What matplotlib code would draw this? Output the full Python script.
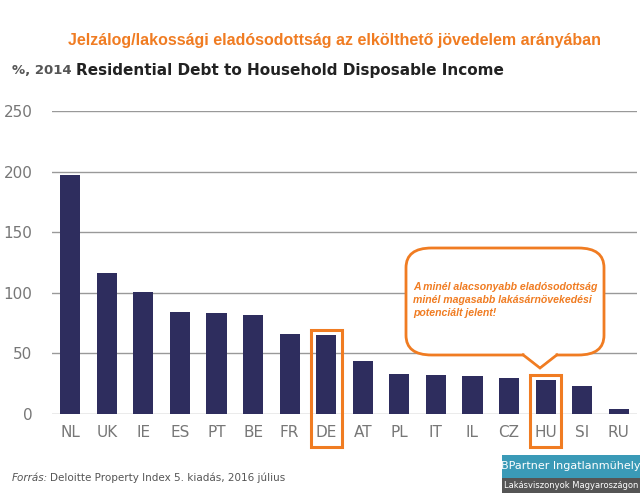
import matplotlib.pyplot as plt
from matplotlib.patches import FancyBboxPatch, Polygon, Rectangle

countries = ["NL", "UK", "IE", "ES", "PT", "BE", "FR", "DE", "AT", "PL", "IT", "IL", "CZ", "HU", "SI", "RU"]
debt = [197, 116, 101, 84, 83, 82, 66, 65, 44, 33, 32, 31, 30, 28, 23, 4]
highlight = ["DE", "HU"]

W, H = 640, 493
fig = plt.figure(figsize=(6.4, 4.93), dpi=100)
ax = fig.add_axes([52 / W, 1 - 414 / H, 585 / W, 303 / H])

x = range(len(countries))
ax.bar(x, debt, width=0.55, color="#2e2d5e", zorder=3)
ax.set_xlim(-0.5, len(countries) - 0.5)
ax.set_ylim(0, 250)
ax.set_yticks([0, 50, 100, 150, 200, 250])
ax.yaxis.grid(True, color="#999999", linewidth=1, zorder=0)
for s in ax.spines.values():
    s.set_visible(False)
ax.tick_params(length=0, labelsize=11, colors="#777777", pad=8)
ax.set_xticks(list(x))
ax.set_xticklabels(countries, fontsize=11)
ax.tick_params(axis="y", pad=14)

orange = "#f07c22"
for c in highlight:
    i = countries.index(c)
    ax.add_patch(Rectangle((i - 0.42, -27), 0.84, 27 + debt[i] + 4, fill=False,
                           edgecolor=orange, linewidth=2.2, clip_on=False, zorder=4))


def fx(px):
    return px / W


def fy(py):
    return 1 - py / H


# callout bubble
fig.patches.append(FancyBboxPatch((fx(406), fy(355)), fx(198), fy(248) - fy(355),
                                  boxstyle="round,pad=0,rounding_size=0.04",
                                  transform=fig.transFigure, facecolor="white",
                                  edgecolor=orange, linewidth=2, zorder=5))
fig.patches.append(Polygon([(fx(522), fy(354)), (fx(540), fy(368)), (fx(558), fy(354))],
                           closed=False, transform=fig.transFigure, facecolor="white",
                           edgecolor=orange, linewidth=2, zorder=6))
fig.patches.append(Polygon([(fx(524), fy(353)), (fx(540), fy(366)), (fx(556), fy(353))],
                           closed=True, transform=fig.transFigure, facecolor="white",
                           edgecolor="none", zorder=6))
fig.text(fx(413), fy(300), "A minél alacsonyabb eladósodottság\nminél magasabb lakásárnövekedési\npotenciált jelent!",
         color=orange, fontsize=7.6, fontweight="bold", style="italic", va="center",
         family="Liberation Sans", linespacing=1.4, zorder=7)

fig.text(fx(68), fy(40), "Jelzálog/lakossági eladósodottság az elkölthető jövedelem arányában",
         color=orange, fontsize=11.5, fontweight="bold", family="Liberation Sans", va="center")
fig.text(fx(12), fy(71), "%, 2014", color="#555555", fontsize=9.5, fontweight="bold", va="center")
fig.text(fx(76), fy(71), "Residential Debt to Household Disposable Income", color="#222222",
         fontsize=11, fontweight="bold", va="center")
fig.text(fx(12), fy(478), "Forrás:", color="#555555", fontsize=7.5, style="italic", va="center")
fig.text(fx(50), fy(478), "Deloitte Property Index 5. kiadás, 2016 július", color="#555555",
         fontsize=7.5, va="center")

# logo
fig.patches.append(Rectangle((fx(502), 0), fx(138), fy(478),
                             transform=fig.transFigure, facecolor="#555555", zorder=5))
fig.patches.append(Rectangle((fx(502), fy(478)), fx(138), fy(455) - fy(478),
                             transform=fig.transFigure, facecolor="#3a9ab7", zorder=5))
fig.text(fx(571), fy(466), "BPartner Ingatlanmühely", color="white", fontsize=8,
         ha="center", va="center", zorder=6)
fig.text(fx(571), fy(486), "Lakásviszonyok Magyaroszágon", color="white", fontsize=6,
         ha="center", va="center", zorder=6)

fig.savefig("out.png")
